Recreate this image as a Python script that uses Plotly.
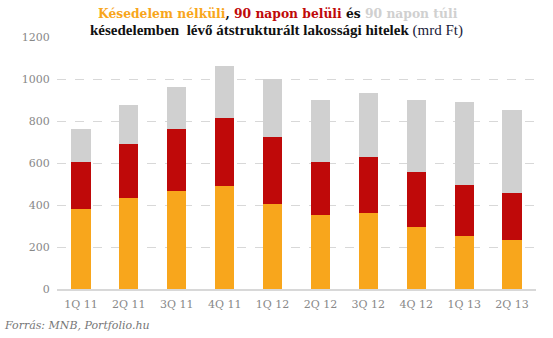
import plotly.graph_objects as go

categories = ["1Q 11", "2Q 11", "3Q 11", "4Q 11", "1Q 12", "2Q 12", "3Q 12", "4Q 12", "1Q 13", "2Q 13"]
no_delay = [382, 435, 468, 492, 406, 354, 363, 297, 254, 235]
within_90 = [224, 257, 295, 323, 319, 252, 267, 262, 243, 224]
over_90 = [157, 185, 200, 248, 276, 295, 305, 342, 395, 395]

ORANGE = "#F8A61C"
RED = "#BF0909"
GRAY = "#D0D0D0"
SERIF = "Georgia, 'DejaVu Serif', 'Liberation Serif', serif"
TSERIF = "'Liberation Serif', serif"

fig = go.Figure()
for name, vals, col in [("Késedelem nélküli", no_delay, ORANGE),
                        ("90 napon belüli", within_90, RED),
                        ("90 napon túli", over_90, GRAY)]:
    fig.add_trace(go.Bar(x=categories, y=vals, name=name, marker=dict(color=col, line=dict(width=0))))

line1 = (
    f"<b><span style='color:{ORANGE}'>Késedelem nélküli</span>, "
    f"<span style='color:{RED}'>90 napon belüli</span> és "
    f"<span style='color:{GRAY}'>90 napon túli</span></b>"
)
line2 = (
    "<b>késedelemben  lévő átstrukturált lakossági hitelek</b> "
    "<span style='color:#1a1a3a'>(mrd Ft)</span>"
)

fig.update_layout(
    width=553, height=338,
    barmode="stack", bargap=0.6,
    showlegend=False,
    plot_bgcolor="white", paper_bgcolor="white",
    margin=dict(l=57, r=17, t=37, b=49),
    font=dict(family=SERIF, color="#888888", size=11),
    xaxis=dict(showgrid=False, showline=True, linecolor="#D8D8D8", linewidth=2,
               ticks="outside", ticklen=4, tickcolor="rgba(0,0,0,0)",
               tickfont=dict(size=11, color="#888888")),
    yaxis=dict(range=[0, 1200], dtick=200, showgrid=True, gridcolor="#D8D8D8",
               griddash="dash", gridwidth=1, zeroline=False,
               ticks="outside", ticklen=4, tickcolor="rgba(0,0,0,0)",
               tickformat="d", tickfont=dict(size=11, color="#888888")),
    annotations=[
        dict(text=line1, xref="paper", yref="paper", x=0.462, y=1.0, yshift=24,
             xanchor="center", yanchor="middle", showarrow=False,
             font=dict(family="'DejaVu Serif', serif", size=12.3, color="#111111")),
        dict(text=line2, xref="paper", yref="paper", x=0.458, y=1.0, yshift=7,
             xanchor="center", yanchor="middle", showarrow=False,
             font=dict(family=TSERIF, size=15, color="#111111")),
        dict(text="<i>Forrás: MNB, Portfolio.hu</i>", xref="paper", yref="paper",
             x=0, xshift=-55, y=0, yshift=-28, xanchor="left", yanchor="top",
             showarrow=False, font=dict(family=SERIF, size=11, color="#777777")),
    ],
)
fig.write_html("out.html")
